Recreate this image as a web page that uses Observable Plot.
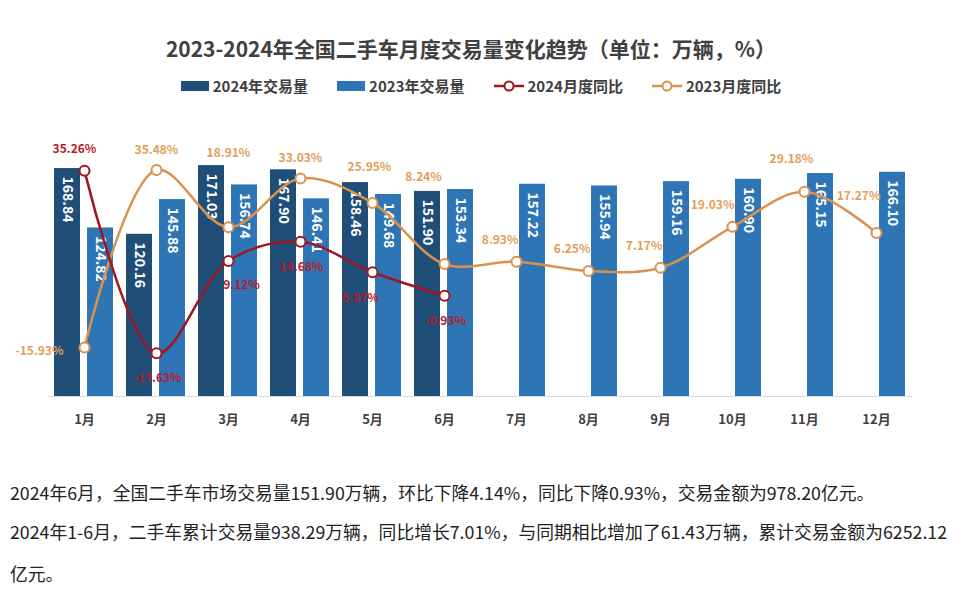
<!DOCTYPE html>
<html>
<head>
<meta charset="utf-8">
<script src="https://cdn.jsdelivr.net/npm/d3@7"></script>
<script src="https://cdn.jsdelivr.net/npm/@observablehq/plot@0.6"></script>
<style>
  html, body { margin: 0; padding: 0; background: #fff; }
  body { width: 980px; height: 613px; position: relative; overflow: hidden;
         font-family: "Noto Sans CJK SC", "Noto Sans", sans-serif; }
  #title { position: absolute; top: 33px; left: 0; width: 942px; text-align: center;
           font-size: 21px; font-weight: bold; color: #404040; line-height: 30px; }
  #legend { position: absolute; top: 76px; left: 0; width: 962px; display: flex;
            justify-content: center; gap: 29px; font-size: 15px; font-weight: bold;
            color: #404040; line-height: 20px; }
  #legend .item { display: flex; align-items: center; gap: 4px; }
  #legend .sw { width: 28px; height: 10px; display: inline-block; }
  #chart { position: absolute; top: 100px; left: 0; }
  .para { position: absolute; left: 10px; white-space: nowrap; font-size: 17.8px;
          color: #222; line-height: 24px; }
</style>
</head>
<body>
<div id="title">2023-2024年全国二手车月度交易量变化趋势（单位：万辆，%）</div>
<div id="legend"></div>
<div id="chart"></div>
<div class="para" style="top:480px">2024年6月，全国二手车市场交易量151.90万辆，环比下降4.14%，同比下降0.93%，交易金额为978.20亿元。</div>
<div class="para" style="top:519px">2024年1-6月，二手车累计交易量938.29万辆，同比增长7.01%，与同期相比增加了61.43万辆，累计交易金额为6252.12</div>
<div class="para" style="top:561px">亿元。</div>
<script>
// ---- data ----
const months = ["1月","2月","3月","4月","5月","6月","7月","8月","9月","10月","11月","12月"];
const vol2024 = [168.84, 120.16, 171.03, 167.90, 158.46, 151.90];
const vol2023 = [124.82, 145.88, 156.74, 146.41, 149.68, 153.34, 157.22, 155.94, 159.16, 160.90, 165.15, 166.10];
const yoy2024 = [35.26, -17.63, 9.12, 14.68, 5.87, -0.93];
const yoy2023 = [-15.93, 35.48, 18.91, 33.03, 25.95, 8.24, 8.93, 6.25, 7.17, 19.03, 29.18, 17.27];
const seriesNames = ["2024年交易量", "2023年交易量", "2024月度同比", "2023月度同比"];

// ---- colours ----
const C24 = "#1f4e79", C23 = "#2e75b6", RED = "#9e1620", RED_T = "#b81a28", ORG = "#d9924f", ORG_T = "#e39d58";

// secondary (percent) axis mapped onto the volume axis
const pctZero = 77.04, pctScale = 2.556;
const pctY = p => pctZero + pctScale * p;

const bars24 = vol2024.map((v, i) => ({month: months[i], v}));
const bars23 = vol2023.map((v, i) => ({month: months[i], v}));
const line24 = yoy2024.map((p, i) => ({month: months[i], p, i}));
const line23 = yoy2023.map((p, i) => ({month: months[i], p, i}));

// legend
const legend = document.getElementById("legend");
const lineSym = c => `<svg width="30" height="12"><line x1="0" y1="6" x2="30" y2="6" stroke="${c}" stroke-width="2.5"/><circle cx="15" cy="6" r="4.5" fill="white" stroke="${c}" stroke-width="2"/></svg>`;
legend.innerHTML =
  `<span class="item"><span class="sw" style="background:${C24}"></span>${seriesNames[0]}</span>` +
  `<span class="item"><span class="sw" style="background:${C23}"></span>${seriesNames[1]}</span>` +
  `<span class="item">${lineSym(RED)}${seriesNames[2]}</span>` +
  `<span class="item">${lineSym(ORG)}${seriesNames[3]}</span>`;

const fmtP = d => d.p.toFixed(2) + "%";
function pctLabels(data, idx, color, opts) {
  return Plot.text(data.filter(d => idx.includes(d.i)), {
    x: "month", y: d => pctY(d.p), text: fmtP, fill: color,
    fontSize: 12, fontWeight: "bold", ...opts
  });
}

const chart = Plot.plot({
  width: 980, height: 340,
  marginLeft: 48, marginRight: 68, marginTop: 26, marginBottom: 44,
  style: {fontFamily: "'Noto Sans CJK SC', sans-serif", background: "transparent"},
  x: {type: "band", domain: months, padding: 0, label: null, tickSize: 0, tickPadding: 18},
  y: {domain: [0, 200], axis: null},
  marks: [
    Plot.ruleY([0], {stroke: "#d9d9d9", strokeWidth: 1.2}),
    Plot.barY(bars24, {x: "month", y: "v", fill: C24, insetLeft: 6, insetRight: 40}),
    Plot.barY(bars23, {x: "month", y: "v", fill: C23, insetLeft: 39, insetRight: 7}),
    Plot.text(bars24, {x: "month", y: "v", text: d => d.v.toFixed(2), rotate: 90, textAnchor: "start",
      lineAnchor: "middle", dx: -17, dy: 8, fill: "white", fontSize: 14, fontWeight: "bold"}),
    Plot.text(bars23, {x: "month", y: "v", text: d => d.v.toFixed(2), rotate: 90, textAnchor: "start",
      lineAnchor: "middle", dx: 16, dy: 8, fill: "white", fontSize: 14, fontWeight: "bold"}),
    Plot.line(line23, {x: "month", y: d => pctY(d.p), stroke: ORG, strokeWidth: 2.5, curve: "catmull-rom"}),
    Plot.line(line24, {x: "month", y: d => pctY(d.p), stroke: RED, strokeWidth: 2.5, curve: "catmull-rom"}),
    Plot.dot(line23, {x: "month", y: d => pctY(d.p), r: 5, fill: "white", stroke: ORG, strokeWidth: 2}),
    Plot.dot(line24, {x: "month", y: d => pctY(d.p), r: 5, fill: "white", stroke: RED, strokeWidth: 2}),
    // 2024 labels
    pctLabels(line24, [0], RED_T, {dx: -10, dy: -22}),
    pctLabels(line24, [1, 3, 5], RED_T, {dx: 1, dy: 25}),
    pctLabels(line24, [2], RED_T, {dx: 13, dy: 24}),
    pctLabels(line24, [4], RED_T, {dx: -12, dy: 26}),
    // 2023 labels
    pctLabels(line23, [0], ORG_T, {textAnchor: "end", dx: -21, dy: 4}),
    pctLabels(line23, [1, 3], ORG_T, {dy: -20}),
    pctLabels(line23, [2], ORG_T, {dy: -74}),
    pctLabels(line23, [4], ORG_T, {dx: -3, dy: -36}),
    pctLabels(line23, [5], ORG_T, {dx: -21, dy: -87}),
    pctLabels(line23, [6, 7, 8, 9], ORG_T, {textAnchor: "end", dx: 2, dy: -22}),
    pctLabels(line23, [10], ORG_T, {dx: -13, dy: -33}),
    pctLabels(line23, [11], ORG_T, {textAnchor: "end", dx: 4, dy: -37})
  ]
});
d3.select(chart).selectAll("g[aria-label='x-axis tick label']")
  .attr("font-size", 13).attr("font-weight", "bold").attr("fill", "#404040");
document.getElementById("chart").appendChild(chart);
</script>
</body>
</html>
